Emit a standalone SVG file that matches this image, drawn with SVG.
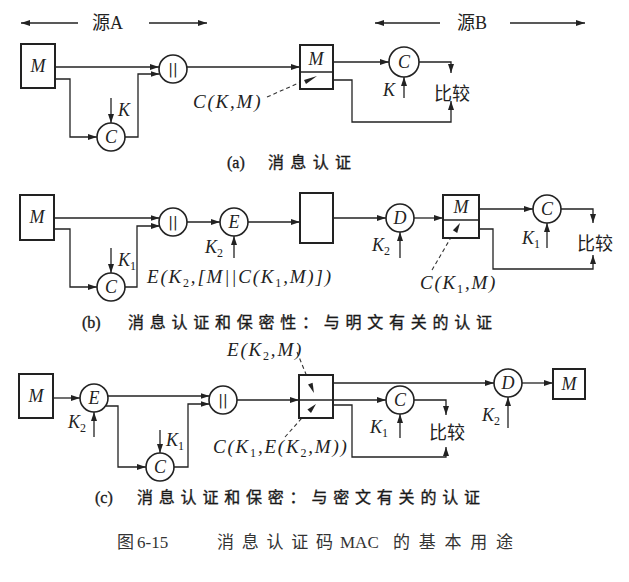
<svg xmlns="http://www.w3.org/2000/svg" width="629" height="582" viewBox="0 0 629 582">
<style>
.ln{fill:none;stroke:#222;stroke-width:1.3}
.ar{marker-end:url(#ah)}
.bx{fill:#fff;stroke:#222;stroke-width:2}
.ci{fill:#fff;stroke:#222;stroke-width:1.6}
.ds{fill:none;stroke:#333;stroke-width:1.1;stroke-dasharray:4 3}
.it{font-family:"Liberation Serif",serif;font-style:italic;font-size:18px;fill:#222}
.lb{font-size:19px;letter-spacing:1.8px}
.cn{font-family:"Liberation Serif","Noto Sans CJK SC",serif;font-size:18px;fill:#222}
.cmp{font-family:"Noto Sans CJK SC",sans-serif;font-size:18px;fill:#222;text-anchor:middle;dominant-baseline:central}
.bar{font-family:"DejaVu Sans",sans-serif;font-size:14px;fill:#222}
.cap{font-family:"Liberation Serif","Noto Sans CJK SC",serif;font-size:16px;fill:#1a1a1a;stroke:#1a1a1a;stroke-width:0.35}
.fc{font-family:"Liberation Serif","Noto Sans CJK SC",serif;font-size:17px;fill:#333}
.mid{text-anchor:middle;dominant-baseline:central}
.sb{font-size:12px;font-style:normal}
</style>
<defs>
<marker id="ah" markerWidth="9" markerHeight="6" refX="9" refY="3" orient="auto" markerUnits="userSpaceOnUse">
<path d="M0,0 L9,3 L0,6 z" fill="#222"/>
</marker>
</defs>

<g id="headers">
<path class="ln ar" d="M78,23 H21"/>
<text class="cn" x="92" y="29">源A</text>
<path class="ln ar" d="M149,23 H207"/>
<path class="ln ar" d="M440,23 H375"/>
<text class="cn" x="457" y="29">源B</text>
<path class="ln ar" d="M510,23 H585"/>
</g>

<g id="connectors">
<!-- (a) -->
<path class="ln ar" d="M55,67 H159"/>
<path class="ln ar" d="M55,79 H70 V137 H97"/>
<path class="ln ar" d="M125,137 H138 V74 H159.5"/>
<path class="ln ar" d="M111,98 V123"/>
<path class="ln ar" d="M187,67 H300"/>
<path class="ln ar" d="M333,62 H389"/>
<path class="ln ar" d="M419,62 H451 V73"/>
<path class="ln ar" d="M333,80 H352 V122 H451 V101"/>
<path class="ln ar" d="M404,98 V77"/>
<path class="ds" d="M267,97 L301,82"/>
<!-- (b) -->
<path class="ln ar" d="M54,218 H159.5"/>
<path class="ln ar" d="M54,229 H70 V287 H97"/>
<path class="ln ar" d="M125,287 H137 V226 H160"/>
<path class="ln ar" d="M111,248 V273"/>
<path class="ln ar" d="M187,222 H220"/>
<path class="ln ar" d="M234,258 V236"/>
<path class="ln ar" d="M248,222 H300"/>
<path class="ln ar" d="M333,218 H386"/>
<path class="ln ar" d="M400,258 V232"/>
<path class="ln ar" d="M414,218 H443"/>
<path class="ln ar" d="M479,209 H533"/>
<path class="ln ar" d="M561,209 H593 V223"/>
<path class="ln ar" d="M479,229 H493 V269 H593 V255"/>
<path class="ln ar" d="M547,248 V223"/>
<path class="ds" d="M432,270 L453,234"/>
<!-- (c) -->
<path class="ln ar" d="M53,398 H80"/>
<path class="ln ar" d="M94,437 V412"/>
<path class="ln ar" d="M108,396 H209.5"/>
<path class="ln ar" d="M106,406 H118 V467 H146"/>
<path class="ln ar" d="M160,430 V453"/>
<path class="ln ar" d="M174,467 H188 V404 H209.5"/>
<path class="ln ar" d="M237,400 H299"/>
<path class="ln ar" d="M333,383 H494"/>
<path class="ln ar" d="M522,383 H553"/>
<path class="ln ar" d="M508,428 V397"/>
<path class="ln ar" d="M333,400 H386"/>
<path class="ln ar" d="M400,438 V414"/>
<path class="ln ar" d="M414,400 H446 V415"/>
<path class="ln ar" d="M333,405 H352 V457 H446 V447"/>
<path class="ds" d="M297,352 L310,384"/>
<path class="ds" d="M285,437 L308,411"/>
</g>

<!-- (a) nodes -->
<g id="a-M">
<rect class="bx" x="21" y="44" width="34" height="44"/>
<text class="it mid" x="38" y="66" font-size="19">M</text>
</g>
<g id="a-concat">
<circle class="ci" cx="173" cy="69" r="14"/>
<text class="bar mid" x="173" y="69">||</text>
</g>
<g id="a-C1">
<circle class="ci" cx="111" cy="137" r="14"/>
<text class="it mid" x="111" y="137">C</text>
</g>
<g id="a-split">
<rect class="bx" x="300" y="45" width="33" height="44"/>
<line x1="300" y1="72" x2="333" y2="72" stroke="#222" stroke-width="1.3"/>
<text class="it mid" x="316" y="59" font-size="17">M</text>
<polygon points="317,76 304,80 306,84" fill="#222"/>
</g>
<g id="a-C2">
<circle class="ci" cx="404" cy="62" r="15"/>
<text class="it mid" x="404" y="62">C</text>
</g>
<g id="a-compare">
<text class="cmp" x="452" y="92">比较</text>
</g>
<g id="a-labels">
<text class="it" x="118" y="116">K</text>
<text class="it lb" x="193" y="108">C(K,M)</text>
<text class="it" x="383" y="96">K</text>
<text class="cap" x="227" y="168">(a)</text>
<text class="cap" x="268" y="168" font-family="Noto Sans CJK SC" textLength="83" lengthAdjust="spacing">消息认证</text>
</g>

<!-- (b) nodes -->
<g id="b-M">
<rect class="bx" x="20" y="195" width="34" height="45"/>
<text class="it mid" x="37" y="217" font-size="19">M</text>
</g>
<g id="b-C1">
<circle class="ci" cx="111" cy="287" r="14"/>
<text class="it mid" x="111" y="287">C</text>
</g>
<g id="b-concat">
<circle class="ci" cx="173" cy="222" r="14"/>
<text class="bar mid" x="173" y="222">||</text>
</g>
<g id="b-E">
<circle class="ci" cx="234" cy="222" r="14"/>
<text class="it mid" x="234" y="222">E</text>
</g>
<g id="b-box">
<rect class="bx" x="300" y="193" width="33" height="50"/>
</g>
<g id="b-D">
<circle class="ci" cx="400" cy="218" r="14"/>
<text class="it mid" x="400" y="218">D</text>
</g>
<g id="b-split">
<rect class="bx" x="443" y="195" width="36" height="43"/>
<line x1="443" y1="220" x2="479" y2="220" stroke="#222" stroke-width="1.3"/>
<text class="it mid" x="461" y="207" font-size="17">M</text>
<polygon points="460,223 452.9,230.3 457.2,232.9" fill="#222"/>
</g>
<g id="b-C2">
<circle class="ci" cx="547" cy="209" r="14"/>
<text class="it mid" x="547" y="209">C</text>
</g>
<g id="b-compare">
<text class="cmp" x="595" y="242">比较</text>
</g>
<g id="b-labels">
<text class="it" x="118" y="266">K<tspan class="sb" dy="4">1</tspan></text>
<text class="it" x="205" y="253">K<tspan class="sb" dy="4">2</tspan></text>
<text class="it lb" x="147" y="283">E(K<tspan class="sb" dy="4">2</tspan><tspan dy="-4">,[M||C(K</tspan><tspan class="sb" dy="4">1</tspan><tspan dy="-4">,M)])</tspan></text>
<text class="it" x="372" y="251">K<tspan class="sb" dy="4">2</tspan></text>
<text class="it lb" x="420" y="289">C(K<tspan class="sb" dy="4">1</tspan><tspan dy="-4">,M)</tspan></text>
<text class="it" x="522" y="244">K<tspan class="sb" dy="4">1</tspan></text>
<text class="cap" x="82" y="328">(b)</text>
<text class="cap" x="128" y="328" font-family="Noto Sans CJK SC" textLength="364" lengthAdjust="spacing">消息认证和保密性：与明文有关的认证</text>
</g>

<!-- (c) nodes -->
<g id="c-M">
<rect class="bx" x="19" y="374" width="34" height="44"/>
<text class="it mid" x="36" y="396" font-size="19">M</text>
</g>
<g id="c-E">
<circle class="ci" cx="94" cy="398" r="14"/>
<text class="it mid" x="94" y="398">E</text>
</g>
<g id="c-C1">
<circle class="ci" cx="160" cy="467" r="14"/>
<text class="it mid" x="160" y="467">C</text>
</g>
<g id="c-concat">
<circle class="ci" cx="223" cy="400" r="14"/>
<text class="bar mid" x="223" y="400">||</text>
</g>
<g id="c-split">
<rect class="bx" x="299" y="375" width="34" height="43"/>
<line x1="299" y1="400" x2="333" y2="400" stroke="#222" stroke-width="1.3"/>
<polygon points="314,393 312.6,382.8 308,384.6" fill="#222"/>
<polygon points="316,404 311,413 307.4,409.6" fill="#222"/>
</g>
<g id="c-C2">
<circle class="ci" cx="400" cy="400" r="14"/>
<text class="it mid" x="400" y="400">C</text>
</g>
<g id="c-D">
<circle class="ci" cx="508" cy="383" r="14"/>
<text class="it mid" x="508" y="383">D</text>
</g>
<g id="c-M2">
<rect class="bx" x="553" y="369" width="32" height="30"/>
<text class="it mid" x="569" y="384" font-size="19">M</text>
</g>
<g id="c-compare">
<text class="cmp" x="447" y="431">比较</text>
</g>
<g id="c-labels">
<text class="it" x="68" y="428">K<tspan class="sb" dy="4">2</tspan></text>
<text class="it" x="166" y="446">K<tspan class="sb" dy="4">1</tspan></text>
<text class="it lb" x="227" y="356">E(K<tspan class="sb" dy="4">2</tspan><tspan dy="-4">,M)</tspan></text>
<text class="it lb" x="213" y="453">C(K<tspan class="sb" dy="4">1</tspan><tspan dy="-4">,E(K</tspan><tspan class="sb" dy="4">2</tspan><tspan dy="-4">,M))</tspan></text>
<text class="it" x="370" y="433">K<tspan class="sb" dy="4">1</tspan></text>
<text class="it" x="482" y="421">K<tspan class="sb" dy="4">2</tspan></text>
<text class="cap" x="95" y="503">(c)</text>
<text class="cap" x="137" y="503" font-family="Noto Sans CJK SC" textLength="343" lengthAdjust="spacing">消息认证和保密：与密文有关的认证</text>
</g>

<g id="caption">
<text class="fc" x="117" y="548" font-family="Noto Sans CJK SC">图</text>
<text class="fc" x="137" y="548">6-15</text>
<text class="fc" x="217" y="548" font-family="Noto Sans CJK SC" textLength="116" lengthAdjust="spacing">消息认证码</text>
<text class="fc" x="340" y="548">MAC</text>
<text class="fc" x="393" y="548" font-family="Noto Sans CJK SC" textLength="120" lengthAdjust="spacing">的基本用途</text>
</g>
</svg>
